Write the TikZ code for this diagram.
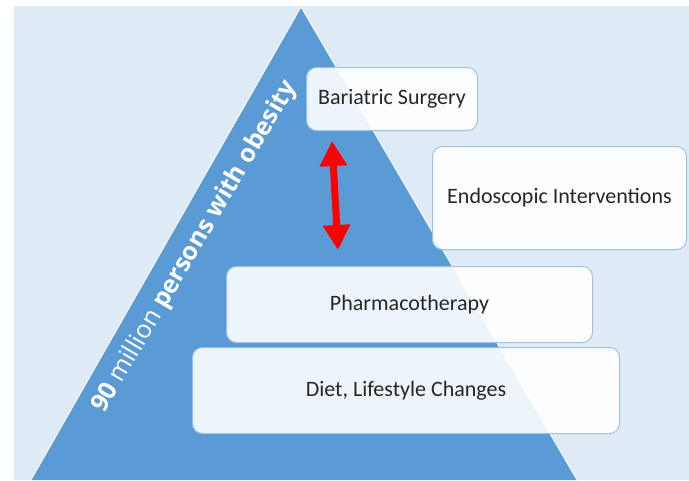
\documentclass[tikz,border=0pt]{standalone}
\usepackage{fontspec}
\setmainfont{Carlito}
\newfontfamily\sidefont{Open Sans}
\usetikzlibrary{positioning,arrows.meta}

\definecolor{pagebg}{HTML}{DEEBF7}
\definecolor{pyramid}{HTML}{5B9BD5}
\definecolor{tierline}{HTML}{9DC3E6}

\tikzset{
  tier/.style={draw=tierline, line width=1pt, fill=white, fill opacity=0.9,
    text opacity=1, text=black!85, rounded corners=10pt, inner sep=0pt,
    anchor=north west, font=\fontsize{22}{26}\selectfont},
}

\begin{document}
\begin{tikzpicture}[x=1pt,y=-1pt]
    \useasboundingbox (0,0) rectangle (689,480);
    % Background
    \fill[pagebg] (14,6) rectangle (689,480);

    % Pyramid
    \fill[pyramid] (301,7) -- (577,480) -- (31,480) -- cycle;
    \draw[white, line width=0.8pt] (31,480) -- (301,7) -- (577,480);

    % Tiers
    \node[tier, minimum width=171pt, minimum height=63pt] (bariatric) at (306,67) {Bariatric Surgery};
    \node[tier, minimum width=254pt, minimum height=103pt] (endoscopic) at (432,146) {Endoscopic Interventions};
    \node[tier, minimum width=366pt, minimum height=76pt] (pharma) at (226,266) {Pharmacotherapy};
    \node[tier, minimum width=427pt, minimum height=86pt] (diet) at (192,347) {Diet, Lifestyle Changes};

    % Double arrow
    \coordinate (up) at (332,141);
    \coordinate (down) at (338,250);
    \draw[red, line width=7pt, {Triangle[width=26pt,length=25pt]}-{Triangle[width=26pt,length=25pt]}] (up) -- (down);

    % Side label
    \node[rotate=59.5, anchor=base west, inner sep=0pt, text=white,
        font=\sidefont\fontsize{25}{30}\selectfont] (patients) at (104,414)
        {\textbf{90} million \textbf{persons with obesity}};
\end{tikzpicture}
\end{document}
